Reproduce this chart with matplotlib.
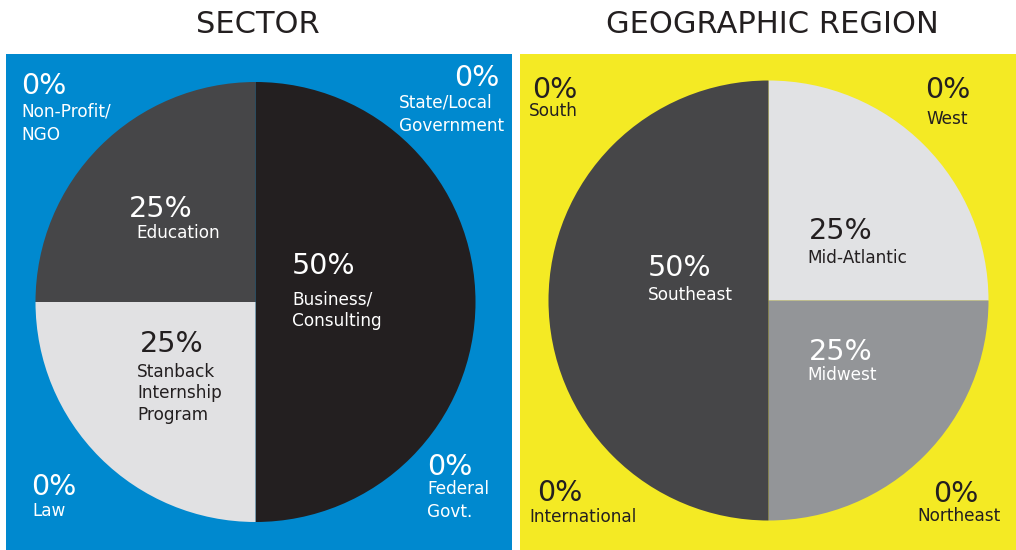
import matplotlib
matplotlib.use("Agg")
import matplotlib.pyplot as plt
from matplotlib.patches import Rectangle

plt.rcParams['font.family'] = ['DejaVu Sans']

W, H = 1016, 550

# Data
sector_labels = ["Business/\nConsulting", "Stanback\nInternship\nProgram", "Education"]
sector_values = [50, 25, 25]
sector_colors = ["#231f20", "#e1e1e3", "#464648"]
sector_zero = ["Non-Profit/\nNGO", "State/Local\nGovernment", "Law", "Federal\nGovt."]

region_labels = ["Mid-Atlantic", "Midwest", "Southeast"]
region_values = [25, 25, 50]
region_colors = ["#e1e2e4", "#939598", "#464648"]
region_zero = ["South", "West", "International", "Northeast"]

BLUE = "#0089cf"
YELLOW = "#f4ea24"
DARK = "#231f20"
WH = "white"

fig = plt.figure(figsize=(W / 100, H / 100), dpi=100)
fig.patch.set_facecolor("white")

def px(x, y):
    return x / W, 1 - y / H

# panels
fig.patches.append(Rectangle(px(6, 550), 506 / W, 496 / H, transform=fig.transFigure,
                             facecolor=BLUE, edgecolor="none", zorder=-5))
fig.patches.append(Rectangle(px(520, 550), 496 / W, 496 / H, transform=fig.transFigure,
                             facecolor=YELLOW, edgecolor="none", zorder=-5))

fig.text(*px(258, 33), "SECTOR", ha="center", va="baseline", fontsize=22, color=DARK)
fig.text(*px(772, 33), "GEOGRAPHIC REGION", ha="center", va="baseline", fontsize=22, color=DARK)

def pie_axes(cx, cy, r):
    ax = fig.add_axes([(cx - r) / W, (H - cy - r) / H, 2 * r / W, 2 * r / H])
    return ax

ax1 = pie_axes(255.5, 302, 220)
ax1.pie(sector_values, colors=sector_colors, startangle=90, counterclock=False,
        radius=1, wedgeprops=dict(linewidth=0))
ax1.set_xlim(-1, 1); ax1.set_ylim(-1, 1); ax1.set_aspect("equal"); ax1.axis("off")

ax2 = pie_axes(768.5, 300.5, 220)
ax2.pie(region_values, colors=region_colors, startangle=90, counterclock=False,
        radius=1, wedgeprops=dict(linewidth=0))
ax2.set_xlim(-1, 1); ax2.set_ylim(-1, 1); ax2.set_aspect("equal"); ax2.axis("off")

PFS = 20.5
NFS = 12.2

def label(px_x, base_y, pct, nx, name_bases, name, color):
    fig.text(*px(px_x, base_y), pct, ha="left", va="baseline", fontsize=PFS, color=color)
    for line, by in zip(name.split("\n"), name_bases):
        fig.text(*px(nx, by), line, ha="left", va="baseline", fontsize=NFS, color=color)

# Sector
label(21, 94, "0%", 21, [117, 140], sector_zero[0], WH)
label(454, 86, "0%", 399, [108, 131], sector_zero[1], WH)
label(31, 495, "0%", 32, [516], sector_zero[2], WH)
label(427, 475, "0%", 427, [494, 517], sector_zero[3], WH)
label(129, 217, f"{sector_values[2]}%", 136, [238], sector_labels[2], WH)
label(292, 274, f"{sector_values[0]}%", 292, [304, 326], sector_labels[0], WH)
label(140, 352, f"{sector_values[1]}%", 137, [377, 398, 420], sector_labels[1], DARK)

# Region
label(532, 98, "0%", 529, [116], region_zero[0], DARK)
label(925, 98, "0%", 926, [124], region_zero[1], DARK)
label(537, 501, "0%", 529, [522], region_zero[2], DARK)
label(933, 502, "0%", 917, [521], region_zero[3], DARK)
label(809, 239, f"{region_values[0]}%", 807, [263], region_labels[0], DARK)
label(809, 360, f"{region_values[1]}%", 807, [380], region_labels[1], WH)
label(648, 276, f"{region_values[2]}%", 648, [300], region_labels[2], WH)

fig.savefig("out.png", dpi=100, facecolor=fig.get_facecolor())
